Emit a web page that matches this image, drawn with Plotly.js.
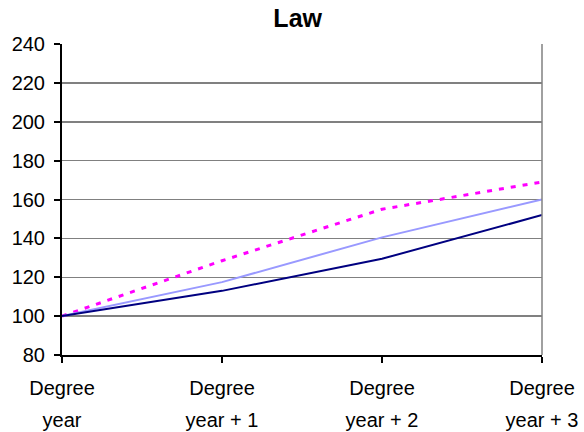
<!DOCTYPE html>
<html><head><meta charset="utf-8">
<script src="https://cdn.plot.ly/plotly-3.0.1.min.js"></script>
<style>body{margin:0;background:#fff}#chart{width:584px;height:432px}</style>
</head><body><div id="chart"></div>
<script>
const categoriesLine1 = ["Degree", "Degree", "Degree", "Degree"];
const categoriesLine2 = ["year", "year + 1", "year + 2", "year + 3"];
const seriesNavy = [100, 113, 129.5, 152];
const seriesLight = [100, 117.5, 140.5, 160];
const seriesMagenta = [100, 128.5, 155, 169];
const yTicks = [80, 100, 120, 140, 160, 180, 200, 220, 240];

const xIdx = categoriesLine1.map((_, i) => i);
const traces = [
  {x: xIdx, y: seriesMagenta, mode: 'lines', line: {color: '#ff00ff', width: 3, dash: '5px,7px'}, hoverinfo: 'skip'},
  {x: xIdx, y: seriesLight, mode: 'lines', line: {color: '#9999ff', width: 2}, hoverinfo: 'skip'},
  {x: xIdx, y: seriesNavy, mode: 'lines', line: {color: '#000080', width: 2}, hoverinfo: 'skip'},
  {x: xIdx, y: seriesNavy, xaxis: 'x2', mode: 'lines', line: {width: 0}, opacity: 0, hoverinfo: 'skip'}
];
const layout = {
  width: 584, height: 432,
  margin: {l: 62, r: 42, t: 44, b: 77},
  paper_bgcolor: '#fff', plot_bgcolor: '#fff',
  showlegend: false,
  font: {family: 'Liberation Sans, Arial, sans-serif', color: '#000', size: 20},
  title: {text: '<b>Law</b>', font: {size: 25, color: '#000'}, x: 0.491, xanchor: 'center', xref: 'paper', yref: 'container', y: 1 - 18/432, yanchor: 'middle'},
  xaxis: {range: [0, 3], tickvals: xIdx, ticktext: categoriesLine1, showgrid: false, zeroline: false,
    showline: true, linecolor: '#000', linewidth: 2, ticks: 'outside', ticklen: 6, tickcolor: '#000', tickwidth: 2,
    tickfont: {size: 20}, ticklabelstandoff: 8},
  xaxis2: {range: [0, 3], overlaying: 'x', side: 'bottom', tickvals: xIdx, ticktext: categoriesLine2, showgrid: false, zeroline: false,
    showline: false, ticks: '', tickfont: {size: 20}, ticklabelstandoff: 51},
  yaxis: {range: [80, 240], tickvals: yTicks, showgrid: true, gridcolor: '#808080', gridwidth: 1.5, zeroline: false,
    showline: true, linecolor: '#000', linewidth: 2, ticks: 'outside', ticklen: 6, tickcolor: '#000', tickwidth: 2,
    tickfont: {size: 20}, ticklabelstandoff: 5},
  shapes: [{type: 'line', xref: 'paper', yref: 'paper', x0: 1, x1: 1, y0: 0, y1: 1, line: {color: '#808080', width: 1.5}}]
};
Plotly.newPlot('chart', traces, layout, {displayModeBar: false, staticPlot: true});
</script></body></html>
